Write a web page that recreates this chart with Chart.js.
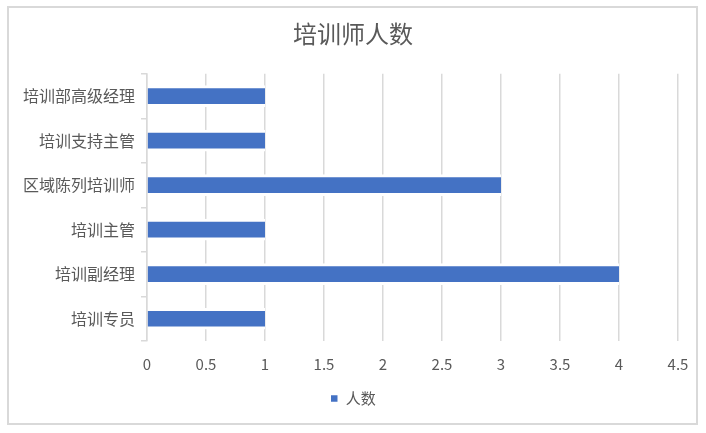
<!DOCTYPE html>
<html>
<head>
<meta charset="utf-8">
<script src="https://cdn.jsdelivr.net/npm/chart.js@4"></script>
<style>
    html, body { margin: 0; padding: 0; background: #fff; }
    #wrap { position: relative; width: 706px; height: 433px; }
</style>
</head>
<body>
<div id="wrap"><canvas id="trainerChart" width="706" height="433"></canvas></div>
<script>
// Chart data
const categories = ['培训部高级经理', '培训支持主管', '区域陈列培训师', '培训主管', '培训副经理', '培训专员'];
const headcount = [1, 1, 3, 1, 4, 1];
const xTicks = [0, 0.5, 1, 1.5, 2, 2.5, 3, 3.5, 4, 4.5];

const textColor = '#595959';
const lineColor = '#d9d9d9';
const fontFamily = '"Noto Sans CJK SC", "Noto Sans", sans-serif';

// White background and outer frame, title + legend centred on the whole canvas
const framePlugin = {
    id: 'frame',
    afterLayout(chart) {
        [chart.legend, chart.titleBlock].forEach(box => {
            if (box) {
                box.left = 0;
                box.right = chart.width;
                box.width = chart.width;
            }
        });
    },
    beforeDraw(chart) {
        const ctx = chart.ctx;
        ctx.save();
        ctx.fillStyle = '#fff';
        ctx.fillRect(0, 0, chart.width, chart.height);
        ctx.strokeStyle = lineColor;
        ctx.lineWidth = 2;
        ctx.strokeRect(8, 7, 689, 417);
        ctx.restore();
    }
};

const ctx = document.getElementById('trainerChart').getContext('2d');
new Chart(ctx, {
    type: 'bar',
    data: {
        labels: categories,
        datasets: [{
            label: '人数',
            data: headcount,
            backgroundColor: '#4472c4',
            borderColor: '#ffffff',
            borderWidth: { top: 3, bottom: 3, left: 0, right: 0 },
            borderSkipped: false,
            barThickness: 21
        }]
    },
    options: {
        indexAxis: 'y',
        responsive: false,
        animation: false,
        layout: {
            padding: { left: 0, right: 28, top: 0, bottom: 17 }
        },
        plugins: {
            title: {
                display: true,
                text: '培训师人数',
                color: textColor,
                font: { family: fontFamily, size: 24, weight: 'normal' },
                padding: { top: 19, bottom: 26 }
            },
            legend: {
                display: true,
                position: 'bottom',
                labels: {
                    color: textColor,
                    boxWidth: 8,
                    boxHeight: 8,
                    padding: 10,
                    font: { family: fontFamily, size: 15 }
                }
            },
            tooltip: { enabled: false }
        },
        scales: {
            x: {
                min: 0,
                max: 4.5,
                afterBuildTicks: axis => {
                    axis.ticks = xTicks.map(v => ({ value: v }));
                },
                afterFit: axis => { axis.height = 40; },
                ticks: {
                    color: textColor,
                    padding: 14,
                    font: { family: fontFamily, size: 15 },
                    callback: value => String(value)
                },
                grid: {
                    color: lineColor,
                    lineWidth: 1.5,
                    drawTicks: false
                },
                border: { display: false }
            },
            y: {
                afterFit: axis => { axis.width = 147; },
                ticks: {
                    color: textColor,
                    padding: 6,
                    font: { family: fontFamily, size: 16 }
                },
                grid: {
                    color: lineColor,
                    lineWidth: 1.5,
                    offset: true,
                    drawOnChartArea: false,
                    drawTicks: true,
                    tickLength: 6
                },
                border: { display: true, color: lineColor, width: 1.5 }
            }
        }
    },
    plugins: [framePlugin]
});
</script>
</body>
</html>
